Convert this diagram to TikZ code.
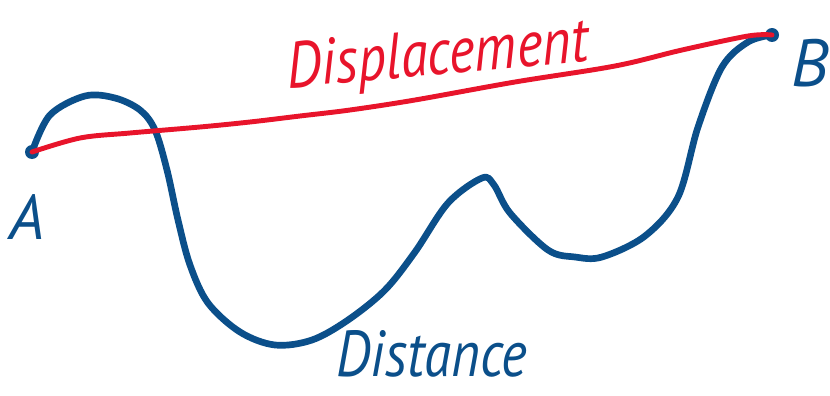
\documentclass[tikz,border=0pt]{standalone}
\usepackage{fontspec}
\setmainfont{PT Sans}
\usepackage{xcolor}
\usepackage{tikz}
\usetikzlibrary{positioning}

\definecolor{pathblue}{HTML}{0B4F8A}
\definecolor{dispred}{HTML}{E8142B}

\begin{document}
\begin{tikzpicture}[
  x=0.02cm, y=-0.02cm,
  endpoint/.style={circle,fill=pathblue,inner sep=0pt,minimum size=0.28cm},
  pointlabel/.style={text=pathblue,font=\fontsize{#1}{#1}\selectfont\itshape,inner sep=0pt},
  distpath/.style={draw=pathblue,line width=3.8pt,line cap=round,line join=round},
  disppath/.style={draw=dispred,line width=2.8pt,line cap=round,line join=round},
  wordlabel/.style={font=\fontsize{#1}{#1}\selectfont\itshape,inner sep=0pt,xscale=0.85}
]
\useasboundingbox (0,0) rectangle (830,395);

\node[endpoint] (ptA) at (32,152) {};
\node[endpoint] (ptB) at (772,35) {};
\node[pointlabel=36] (labA) at (27,217) {A};
\node[pointlabel=38,anchor=east] (labB) at (829,63) {B};

\draw[distpath] plot[smooth,tension=0.55] coordinates {(ptA.center) (50,115) (85,96) (115,98) (140,110) (155,130) (167,170) (178,220) (190,265) (208,303) (240,332) (275,345) (312,340) (348,320) (385,290) (415,252) (448,203) (482,178) (494,185) (510,213) (548,250) (575,257) (602,257) (645,236) (678,197) (698,127) (722,67) (748,42) (ptB.center)};

\draw[disppath] plot[smooth,tension=0.55] coordinates {(ptA.center) (80,138) (130,133) (200,127) (250,122) (300,116) (350,110) (415,100) (515,82) (615,66) (682,50) (748,36) (ptB.center)};

\node[wordlabel=37,text=dispred,rotate=4.4] (disp) at (438,58) {Displacement};
\node[wordlabel=37,text=pathblue,anchor=base] (dist) at (432,376) {Distance};
\end{tikzpicture}
\end{document}
